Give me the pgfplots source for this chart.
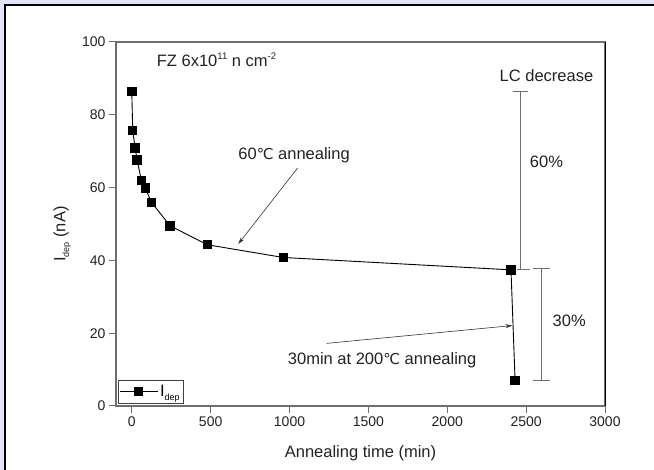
\documentclass[border=0pt]{standalone}
\usepackage{pgfplots}
\pgfplotsset{compat=1.18}
\usepackage{fontspec}
\setmainfont{Liberation Sans}
\newfontfamily\djv{DejaVu Sans}
\usetikzlibrary{arrows.meta}
\definecolor{lav}{HTML}{E4E4F8}
\definecolor{axgray}{HTML}{6E6E6E}
\definecolor{txt}{HTML}{222222}
\newcommand{\degC}{{\djv\fontsize{15}{17}\selectfont ℃}}
\newcommand{\ann}{\fontsize{16.5}{19}\selectfont}
\newcommand{\sub}[1]{\raisebox{-0.45ex}{\fontsize{9}{10}\selectfont #1}}
\newcommand{\sups}[1]{\raisebox{0.75ex}{\fontsize{9.5}{10}\selectfont #1}}
\begin{document}
\begin{tikzpicture}[x=1pt,y=1pt]
\fill[lav] (0,0) rectangle (654,470);
\fill[white] (5,0) rectangle (654,465);
\draw[black, line width=2pt] (5,0) -- (5,465) -- (654,465);
\begin{axis}[
  at={(116pt,64pt)}, anchor=south west,
  scale only axis, width=489pt, height=364pt,
  xmin=-100, xmax=3000, ymin=0, ymax=100,
  xtick={0,500,...,3000}, ytick={0,20,...,100},
  tick align=outside, xtick pos=bottom, ytick pos=left,
  major tick length=7pt,
  every tick/.style={axgray, line width=1pt},
  axis line style={axgray, line width=1.2pt},
  tick label style={font=\fontsize{14}{16}\selectfont, text=txt},
  /pgf/number format/assume math mode=true,
  /pgf/number format/set thousands separator={},
  label style={font=\ann, text=txt},
  xlabel={Annealing time (min)},
  ylabel={I\sub{dep} (nA)},
  xlabel style={at={(axis description cs:0.5,-0.129)}, anchor=center},
  ylabel style={at={(axis description cs:-0.110,0.4725)}, anchor=center},
  clip=false,
  legend style={at={(rel axis cs:0,0)}, anchor=south west, xshift=2pt, yshift=3pt,
    draw=black!75, font=\ann, inner xsep=1pt, inner ysep=3pt},
  legend cell align=left,
  legend image code/.code={\draw[mark repeat=2,mark phase=2,#1] plot coordinates {(0pt,0pt) (19pt,0pt) (38pt,0pt)};},
]
\addplot[black, line width=0.9pt, mark=square*, mark size=4.2pt, mark options={solid,fill=black}]
  coordinates {(0,86.4) (6,75.7) (21,70.9) (34,67.6) (61,61.9) (86,59.9) (124,56.0) (243,49.5) (479,44.3) (960,40.8) (2404,37.4) (2430,7.0)};
\addlegendentry{I\sub{dep}}

\draw[black, line width=0.8pt] (rel axis cs:1,0) -- (rel axis cs:1,1);

\node[font=\ann, text=txt, anchor=west] at (axis cs:137,95.1) {FZ 6x10\sups{11} n cm\sups{-2}};
\node[font=\ann, text=txt] at (axis cs:2629,90.7) {LC decrease};
\draw[axgray, line width=1pt] (axis cs:2415,86.4) -- (axis cs:2510,86.4);
\draw[axgray, line width=1pt] (axis cs:2466,86.4) -- (axis cs:2466,37.4);
\draw[axgray, line width=1pt] (axis cs:2439,37.4) -- (axis cs:2523,37.4);
\node[font=\ann, text=txt] at (axis cs:2629,67.2) {60\%};
\draw[axgray, line width=1pt] (axis cs:2542,37.75) -- (axis cs:2650,37.75);
\draw[axgray, line width=1pt] (axis cs:2599,37.75) -- (axis cs:2599,6.96);
\draw[axgray, line width=1pt] (axis cs:2542,6.96) -- (axis cs:2650,6.96);
\node[font=\ann, text=txt] at (axis cs:2773,23.5) {30\%};

\node[font=\ann, text=txt] at (axis cs:1029,69.0) {60\degC\ annealing};
\draw[black!80, line width=0.6pt, -{Stealth[length=7pt,width=4pt]}] (axis cs:1051.5,65.4) -- (axis cs:675,44.5);
\node[font=\ann, text=txt] at (axis cs:1587,12.6) {30min at 200\degC\ annealing};
\draw[black!80, line width=0.6pt, -{Stealth[length=7pt,width=4pt]}] (axis cs:1235,17.2) -- (axis cs:2413,22.1);
\end{axis}
\pgfresetboundingbox
\useasboundingbox (0,0) rectangle (654,470);
\end{tikzpicture}
\end{document}
